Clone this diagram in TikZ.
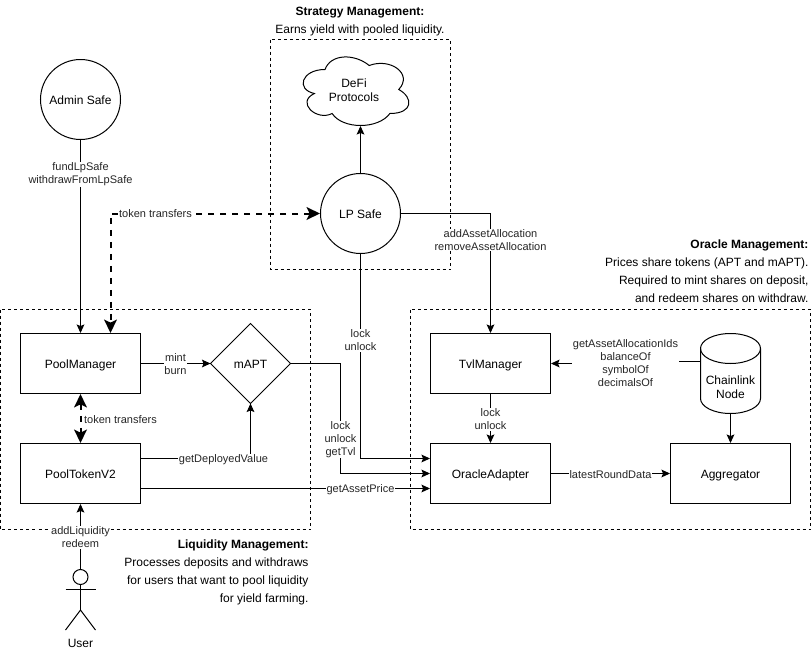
\documentclass[tikz,border=0pt]{standalone}
\usepackage{fontspec}
\setmainfont{Liberation Sans}
\usetikzlibrary{arrows.meta,calc}
\tikzset{
  x=0.75pt,y=-0.75pt,
  every path/.style={line width=0.75pt},
  tip/.tip={Stealth[inset=1.2pt,length=6.4pt,width=5.8pt]},
  bigtip/.tip={Stealth[inset=2.2pt,length=10pt,width=9.5pt]},
  conn/.style={draw,black,-{tip}},
  plain/.style={draw,black},
  thickconn/.style={draw,black,line width=1.5pt,dash pattern=on 4.5pt off 4.5pt,{bigtip}-{bigtip}},
  groupbox/.style={draw,black,dash pattern=on 2.25pt off 2.25pt},
  box/.style={draw,rectangle,minimum width=90pt,minimum height=45pt,inner sep=0pt,
    text height=9pt,text depth=1.5pt,font=\fontsize{9}{10.5}\selectfont},
  circ/.style={draw,circle,minimum size=60pt,inner sep=0pt,
    text height=9pt,text depth=1.5pt,font=\fontsize{9}{10.5}\selectfont},
  lbl/.style={fill=white,inner sep=0.6pt,align=center,text=black!85,font=\fontsize{8.25}{9.75}\selectfont},
  shapetext/.style={inner sep=0pt,align=center,font=\fontsize{9}{10.5}\selectfont},
  note/.style={inner sep=0pt,font=\fontsize{9}{13.5}\selectfont},
  hidden/.style={inner sep=0pt,rectangle},
}
\begin{document}
\begin{tikzpicture}
\useasboundingbox (0,0) rectangle (811,650);
% group frames
\path[groupbox] (270.5,39.5) rectangle (450.5,269.5);
\path[groupbox] (0.5,309.5) rectangle (310.5,529.5);
\path[groupbox] (410.5,309.5) rectangle (810.5,529.5);
% shapes
\node[circ] (admin) at (80.5,99.5) {Admin Safe};
\node[circ] (lp) at (360.5,213.5) {LP Safe};
\node[box] (pm) at (80.5,363.5) {PoolManager};
\node[box] (ptk) at (80.5,473.5) {PoolTokenV2};
\node[box] (tvl) at (490.5,363.5) {TvlManager};
\node[box] (oa) at (490.5,473.5) {OracleAdapter};
\node[box] (agg) at (730.5,473.5) {Aggregator};
% diamond
\coordinate (mn) at (250.5,323.5);
\coordinate (me) at (290.5,363.5);
\coordinate (ms) at (250.5,403.5);
\coordinate (mw) at (210.5,363.5);
\draw (mn) -- (me) -- (ms) -- (mw) -- cycle;
\node[shapetext] (mapt) at (250.5,364) {mAPT};
% cloud
\draw (325,69.5) .. controls (301.4,69.5) and (295.5,89.5) .. (314.4,93.5)
  .. controls (295.5,102.3) and (316.7,121.5) .. (332.1,113.5)
  .. controls (342.7,129.5) and (378.1,129.5) .. (389.9,113.5)
  .. controls (413.5,113.5) and (413.5,97.5) .. (398.75,89.5)
  .. controls (413.5,73.5) and (389.9,57.5) .. (369.25,65.5)
  .. controls (354.5,53.5) and (330.9,53.5) .. (325,69.5) -- cycle;
\node[shapetext] (defi) at (354,90) {DeFi\\Protocols};
\coordinate (cloudb) at (360.5,126);
% cylinder
\node[hidden,minimum width=45pt,minimum height=60pt] (chain) at (730.5,373.5) {};
\draw (700.5,348.5) arc[x radius=30,y radius=-15,start angle=180,end angle=0]
  -- (760.5,398.5) arc[x radius=30,y radius=-15,start angle=0,end angle=-180] -- cycle;
\draw (700.5,348.5) arc[x radius=30,y radius=15,start angle=180,end angle=0];
\node[shapetext] (chaintext) at (730.5,387.5) {Chainlink\\Node};
% actor
\node[draw,circle,minimum size=11.25pt,inner sep=0pt] (head) at (80.5,577) {};
\coordinate (hip) at (80.5,610);
\draw (head.south) -- (hip);
\draw (65.5,589.5) -- (95.5,589.5);
\draw (65.5,630) -- (hip) -- (95.5,630);
\node[shapetext] (user) at (80.5,643) {User};
% connectors
\path[conn] (admin) -- (pm);
\path[thickconn] (lp.west) -| ([xshift=22.5pt]pm.north);
\path[thickconn] (pm.south) -- (ptk.north);
\path[conn] (lp.north) -- (cloudb);
\path[conn] (lp.east) -| (tvl.north);
\path[conn] (lp.south) |- ([yshift=11.25pt]oa.west);
\path[conn] (me) -- ++(50,0) |- (oa.west);
\path[conn] (pm.east) -- (mw);
\path[conn] ([yshift=11.25pt]ptk.east) -| (ms);
\path[conn] ([yshift=-11.25pt]ptk.east) -- ([yshift=-11.25pt]oa.west);
\path[conn] (head.north) -- (ptk.south);
\path[conn] (tvl.south) -- (oa.north);
\path[conn] (oa.east) -- (agg.west);
\path[conn] (chain.south) -- (agg.north);
\path[conn] (700.5,361) -- (625.5,361) |- (tvl.east);
% connector labels
\node[lbl] (l1) at (80.5,174.5) {fundLpSafe\\withdrawFromLpSafe};
\node[lbl] (l2) at (155.5,213.5) {token transfers};
\node[lbl] (l3) at (490.5,240) {addAssetAllocation\\removeAssetAllocation};
\node[lbl] (l4) at (360.5,340.5) {lock\\unlock};
\node[lbl] (l5) at (175.5,364) {mint\\burn};
\node[lbl] (l6) at (120.5,420) {token transfers};
\node[lbl] (l7) at (340.5,439.5) {lock\\unlock\\getTvl};
\node[lbl] (l8) at (223.5,459.5) {getDeployedValue};
\node[lbl] (l9) at (360.5,489.5) {getAssetPrice};
\node[lbl] (l10) at (80.5,537.5) {addLiquidity\\redeem};
\node[lbl] (l11) at (490.5,419.5) {lock\\unlock};
\node[lbl] (l12) at (625.5,363.5) {getAssetAllocationIds\\balanceOf\\symbolOf\\decimalsOf};
\node[lbl] (l13) at (610.5,474.5) {latestRoundData};
% captions
\node[note,align=center] (strategy) at (360,21.5) {\textbf{Strategy Management:}\\Earns yield with pooled liquidity.};
\node[note,align=right,anchor=east] (oracle) at (809,271.5) {\textbf{Oracle Management:}\\Prices share tokens (APT and mAPT).\\Required to mint shares on deposit,\\and redeem shares on withdraw.};
\node[note,align=right,anchor=east] (liquidity) at (309,572.5) {\textbf{Liquidity Management:}\\Processes deposits and withdraws\\for users that want to pool liquidity\\for yield farming.};
\end{tikzpicture}
\end{document}
